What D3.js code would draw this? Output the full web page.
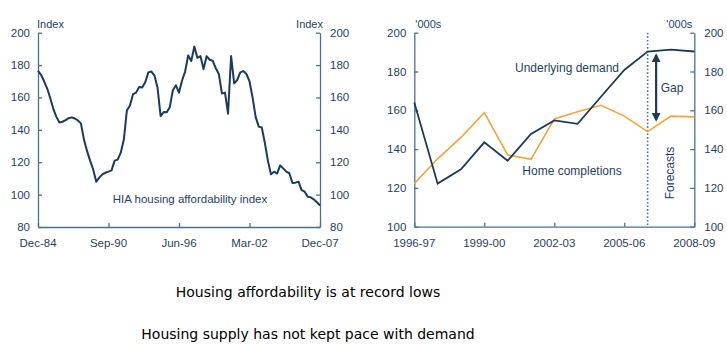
<!DOCTYPE html>
<html lang="en">
<head>
<meta charset="UTF-8">
<title>Housing affordability and supply</title>
<script src="https://cdn.jsdelivr.net/npm/d3@7"></script>
<style>
  body { margin: 0; background: #fff; }
  svg text { font-family: "Liberation Sans", Arial, sans-serif; fill: #1f3f62; }
  .axis path, .axis line { stroke: #4a7090; stroke-width: 1.3px; }
  .caption { font-family: "DejaVu Sans", Verdana, sans-serif !important; font-size: 14px; fill: #000 !important; }
</style>
</head>
<body>
<svg id="chart" width="727" height="346"></svg>
<script>
// HIA housing affordability index, quarterly from Dec-84 to Dec-07
var hiaIndex = [
  176.5, 174, 170, 165.5, 159.5, 153, 148, 144.5, 145, 146,
  147.2, 147.7, 147, 145.8, 144, 134, 127, 121, 115.5, 108,
  110.5, 112.5, 113.5, 114.2, 115, 121, 121.6, 125.9, 134, 152,
  155, 162, 163, 166.5, 166.2, 169.5, 175.5, 176, 173.5, 166,
  148.5, 151, 150.8, 154, 164.5, 167.5, 163, 170.5, 176, 186,
  182.5, 191.4, 184.5, 185.6, 177.5, 185.5, 183.3, 182.7, 178, 174.5,
  162.5, 163, 150, 185.6, 168.7, 170.8, 175.5, 176.3, 174.5, 170,
  160, 148, 142, 141.5, 132, 121, 112.5, 114.2, 113, 118,
  116.2, 114.2, 113.2, 107.2, 107.4, 108, 102.8, 101.8, 98.7, 98.3,
  97, 95.3, 93.3
];
var hiaTickLabels = ["Dec-84", "Sep-90", "Jun-96", "Mar-02", "Dec-07"];
var hiaTickIdx = [0, 23, 46, 69, 92];

// Dwellings, '000s, financial years
var years = ["1996-97", "1997-98", "1998-99", "1999-00", "2000-01", "2001-02", "2002-03",
  "2003-04", "2004-05", "2005-06", "2006-07", "2007-08", "2008-09"];
var underlyingDemand = [164, 122.2, 129.6, 143.5, 134, 147.8, 154.8, 153, 167, 180.8, 190.3, 191.3, 190.3];
var homeCompletions = [122.2, 135, 146, 158.8, 137, 134.7, 155.5, 159.3, 162.6, 157, 149, 157, 156.6];
var yearTicks = ["1996-97", "1999-00", "2002-03", "2005-06", "2008-09"];
var forecastStart = "2006-07";
var gapRange = [188.5, 155];

var svg = d3.select("#chart");
var navy = "#1b3a5c", orange = "#f2a43a";

// ---------- left panel ----------
var L = { left: 38, right: 320, top: 32.7, bottom: 227 };
var xL = d3.scaleLinear().domain([0, hiaIndex.length - 1]).range([L.left, L.right]);
var yL = d3.scaleLinear().domain([80, 200]).range([L.bottom, L.top]);
var yTicks = d3.range(80, 201, 20);

svg.append("g").attr("class", "axis")
  .attr("transform", "translate(0," + L.bottom + ")")
  .call(d3.axisTop(xL).tickValues(hiaTickIdx).tickSize(4).tickSizeOuter(0).tickFormat(""));
svg.append("g").selectAll("text").data(hiaTickIdx).join("text")
  .attr("x", function(d) { return xL(d); }).attr("y", L.bottom + 20)
  .attr("text-anchor", "middle").style("font-size", "11.5px")
  .text(function(d, i) { return hiaTickLabels[i]; });

svg.append("g").attr("class", "axis")
  .attr("transform", "translate(" + L.left + ",0)")
  .call(d3.axisRight(yL).tickValues(yTicks).tickSize(4).tickSizeOuter(0).tickFormat(""));
svg.append("g").attr("class", "axis")
  .attr("transform", "translate(" + L.right + ",0)")
  .call(d3.axisLeft(yL).tickValues(yTicks).tickSize(4).tickSizeOuter(0).tickFormat(""));

svg.append("g").selectAll("text").data(yTicks).join("text")
  .attr("x", L.left - 8).attr("y", function(d) { return yL(d) + 4; })
  .attr("text-anchor", "end").style("font-size", "11.5px").text(function(d) { return d; });
svg.append("g").selectAll("text").data(yTicks).join("text")
  .attr("x", L.right + 10).attr("y", function(d) { return yL(d) + 4; })
  .attr("text-anchor", "start").style("font-size", "11.5px").text(function(d) { return d; });

svg.append("text").attr("x", L.left - 1).attr("y", 28).style("font-size", "11px").text("Index");
svg.append("text").attr("x", L.right + 3).attr("y", 28).attr("text-anchor", "end").style("font-size", "11px").text("Index");

svg.append("path").datum(hiaIndex)
  .attr("fill", "none").attr("stroke", navy).attr("stroke-width", 2).attr("stroke-linejoin", "round")
  .attr("d", d3.line().x(function(d, i) { return xL(i); }).y(function(d) { return yL(d); }));

svg.append("text").attr("x", 190).attr("y", 203).attr("text-anchor", "middle")
  .style("font-size", "11.5px").text("HIA housing affordability index");

// ---------- right panel ----------
var R = { left: 414.3, right: 694.3, top: 32.7, bottom: 226.7 };
var xR = d3.scalePoint().domain(years).range([R.left, R.right]);
var yR = d3.scaleLinear().domain([100, 200]).range([R.bottom, R.top]);
var yTicksR = d3.range(100, 201, 20);

// forecast divider
svg.append("line")
  .attr("x1", xR(forecastStart)).attr("x2", xR(forecastStart))
  .attr("y1", R.top).attr("y2", R.bottom)
  .attr("stroke", "#4a6f98").attr("stroke-width", 1.6).attr("stroke-dasharray", "1.6,2");

svg.append("g").attr("class", "axis")
  .attr("transform", "translate(0," + R.bottom + ")")
  .call(d3.axisTop(xR).tickValues(yearTicks).tickSize(4).tickSizeOuter(0).tickFormat(""));
svg.append("g").selectAll("text").data(yearTicks).join("text")
  .attr("x", function(d) { return xR(d); }).attr("y", R.bottom + 20)
  .attr("text-anchor", "middle").style("font-size", "11.5px").text(function(d) { return d; });

svg.append("g").attr("class", "axis")
  .attr("transform", "translate(" + R.left + ",0)")
  .call(d3.axisRight(yR).tickValues(yTicksR).tickSize(4).tickSizeOuter(0).tickFormat(""));
svg.append("g").attr("class", "axis")
  .attr("transform", "translate(" + R.right + ",0)")
  .call(d3.axisLeft(yR).tickValues(yTicksR).tickSize(4).tickSizeOuter(0).tickFormat(""));
svg.append("g").selectAll("text").data(yTicksR).join("text")
  .attr("x", R.left - 8).attr("y", function(d) { return yR(d) + 4; })
  .attr("text-anchor", "end").style("font-size", "11.5px").text(function(d) { return d; });
svg.append("g").selectAll("text").data(yTicksR).join("text")
  .attr("x", R.right + 10).attr("y", function(d) { return yR(d) + 4; })
  .attr("text-anchor", "start").style("font-size", "11.5px").text(function(d) { return d; });

svg.append("text").attr("x", R.left + 1).attr("y", 28).style("font-size", "11px").text("'000s");
svg.append("text").attr("x", R.right - 2).attr("y", 28).attr("text-anchor", "end").style("font-size", "11px").text("'000s");

var lineR = d3.line().x(function(d, i) { return xR(years[i]); }).y(function(d) { return yR(d); });
svg.append("path").datum(homeCompletions)
  .attr("fill", "none").attr("stroke", orange).attr("stroke-width", 1.6).attr("d", lineR);
svg.append("path").datum(underlyingDemand)
  .attr("fill", "none").attr("stroke", navy).attr("stroke-width", 1.8).attr("d", lineR);

// double-headed gap arrow
var defs = svg.append("defs");
defs.append("marker").attr("id", "head").attr("viewBox", "0 0 10 10")
  .attr("refX", 8).attr("refY", 5).attr("markerWidth", 4).attr("markerHeight", 4)
  .attr("orient", "auto-start-reverse")
  .append("path").attr("d", "M0,0 L10,5 L0,10 z").attr("fill", navy);
var gapX = xR(forecastStart) + 8.5;
svg.append("line")
  .attr("x1", gapX).attr("x2", gapX)
  .attr("y1", yR(gapRange[0])).attr("y2", yR(gapRange[1]))
  .attr("stroke", navy).attr("stroke-width", 2.2)
  .attr("marker-start", "url(#head)").attr("marker-end", "url(#head)");

svg.append("text").attr("x", 672).attr("y", 92).attr("text-anchor", "middle")
  .style("font-size", "12px").text("Gap");
svg.append("text").attr("x", 567).attr("y", 72).attr("text-anchor", "middle")
  .style("font-size", "12px").text("Underlying demand");
svg.append("text").attr("x", 572).attr("y", 175).attr("text-anchor", "middle")
  .style("font-size", "12px").text("Home completions");
svg.append("text").attr("transform", "translate(674,173) rotate(-90)")
  .attr("text-anchor", "middle").style("font-size", "12px").text("Forecasts");

// captions
svg.append("text").attr("class", "caption").attr("x", 308).attr("y", 297)
  .attr("text-anchor", "middle").text("Housing affordability is at record lows");
svg.append("text").attr("class", "caption").attr("x", 308).attr("y", 339)
  .attr("text-anchor", "middle").text("Housing supply has not kept pace with demand");
</script>
</body>
</html>
